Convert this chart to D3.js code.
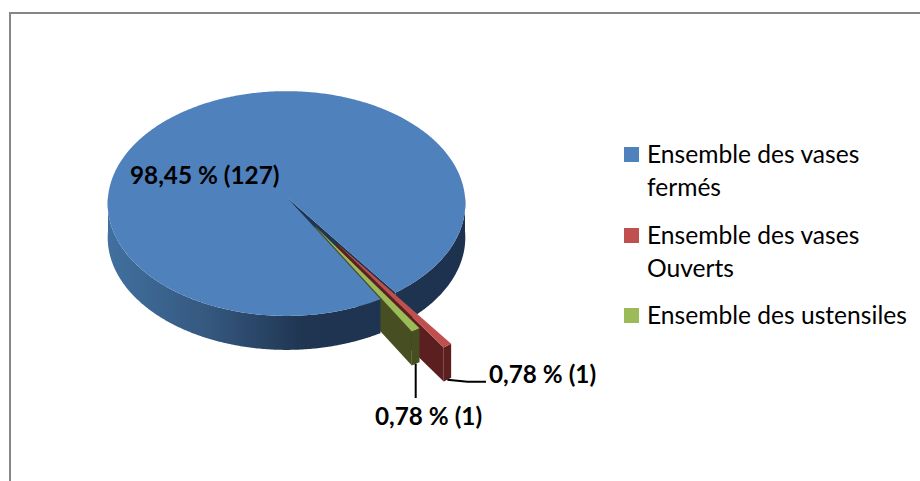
<!DOCTYPE html>
<html>
<head>
<meta charset="utf-8">
<script src="https://cdn.jsdelivr.net/npm/d3@7"></script>
<style>
    body { margin: 0; background: #fff; }
    text { font-family: Lato, "Open Sans", sans-serif; fill: #000; }
</style>
</head>
<body>
<svg id="chart" width="920" height="481"></svg>
<script>
const categories = ['Ensemble des vases fermés', 'Ensemble des vases Ouverts', 'Ensemble des ustensiles'];
const legendLines = [['Ensemble des vases', 'fermés'], ['Ensemble des vases', 'Ouverts'], ['Ensemble des ustensiles']];
const counts = [127, 1, 1];
const valueLabels = ['98,45 % (127)', '0,78 % (1)', '0,78 % (1)'];
const explosion = [0, 0.49, 0.3];

const topColors = ['#4f81bd', '#c0504d', '#9bbb59'];
const wallColors = ['#1f3551', '#5a1f1e', '#474f22'];

// tilted disc: unit circle goes through a small perspective so the near side is a bit bigger
const cx = 286.5, cy = 197, rx = 178.5, ry = 112, persp = 0.058, depth = 34;

const svg = d3.select('#chart');

svg.append('rect')
    .attr('x', 10).attr('y', 13)
    .attr('width', 960).attr('height', 600)
    .attr('fill', 'none')
    .attr('stroke', '#868686')
    .attr('stroke-width', 2);

const defs = svg.append('defs');
const grad = defs.append('linearGradient')
    .attr('id', 'wallGrad')
    .attr('gradientUnits', 'userSpaceOnUse')
    .attr('x1', 107).attr('x2', 466).attr('y1', 0).attr('y2', 0);
grad.append('stop').attr('offset', '0%').attr('stop-color', '#41709f');
grad.append('stop').attr('offset', '28%').attr('stop-color', '#35587f');
grad.append('stop').attr('offset', '55%').attr('stop-color', '#1f3551');
grad.append('stop').attr('offset', '100%').attr('stop-color', '#1d324e');

function project(ux, uy, drop) {
    const w = 1 - persp * uy;
    return [cx + rx * ux / w, cy + ry * uy / w + (drop || 0)];
}

// d3.pie angles run clockwise from north
const pie = d3.pie().sort(null).value(d => d)
    .startAngle(150 * Math.PI / 180)
    .endAngle((150 + 360) * Math.PI / 180);

const slices = pie(counts).map((s, i) => {
    const mid = (s.startAngle + s.endAngle) / 2;
    return {
        ...s,
        index: i,
        ox: explosion[i] * Math.sin(mid),
        oy: -explosion[i] * Math.cos(mid)
    };
});

function rimPoint(s, a, drop) {
    return project(s.ox + Math.sin(a), s.oy - Math.cos(a), drop);
}

function arcPoints(s, a0, a1, drop) {
    const n = Math.max(2, Math.ceil(Math.abs(a1 - a0) / 0.01));
    return d3.range(n + 1).map(i => rimPoint(s, a0 + (a1 - a0) * i / n, drop));
}

const line = d3.line();
const closed = pts => line(pts) + 'Z';

function topFace(s) {
    return closed([project(s.ox, s.oy), ...arcPoints(s, s.startAngle, s.endAngle)]);
}

function outerWall(s, a0, a1) {
    return closed([...arcPoints(s, a0, a1), ...arcPoints(s, a1, a0, depth)]);
}

function cutWall(s, a) {
    const apex = project(s.ox, s.oy);
    const apexLow = project(s.ox, s.oy, depth);
    return closed([apex, rimPoint(s, a), rimPoint(s, a, depth), apexLow]);
}

const [blue, red, green] = slices;

// blue wraps past north, so its front wall comes in two pieces either side of the gap:
// the right piece sits behind the small slices, the left piece hides the start of the olive wall
svg.append('path').attr('d', cutWall(blue, blue.endAngle)).attr('fill', wallColors[0]);
svg.append('path').attr('d', outerWall(blue, Math.PI * 2.5, blue.endAngle)).attr('fill', 'url(#wallGrad)');

svg.append('path').attr('d', cutWall(red, red.endAngle)).attr('fill', wallColors[1]);
svg.append('path').attr('d', outerWall(red, red.startAngle, red.endAngle)).attr('fill', wallColors[1]);
svg.append('path').attr('d', cutWall(green, green.endAngle)).attr('fill', wallColors[2]);
svg.append('path').attr('d', outerWall(green, green.startAngle, green.endAngle)).attr('fill', wallColors[2]);

svg.append('path').attr('d', outerWall(blue, blue.startAngle, Math.PI * 1.5)).attr('fill', 'url(#wallGrad)');

svg.selectAll('path.top')
    .data(slices)
    .join('path')
    .attr('class', 'top')
    .attr('d', topFace)
    .attr('fill', d => topColors[d.index]);

// leader lines start at the bottom of the exploded slices
const redMid = rimPoint(red, (red.startAngle + red.endAngle) / 2, depth);
const greenMid = rimPoint(green, (green.startAngle + green.endAngle) / 2, depth);

svg.append('path')
    .attr('d', line([redMid, [redMid[0] + 20, redMid[1] + 2], [486, redMid[1] + 2]]))
    .attr('fill', 'none').attr('stroke', '#000').attr('stroke-width', 2);
svg.append('path')
    .attr('d', line([greenMid, [greenMid[0], 398]]))
    .attr('fill', 'none').attr('stroke', '#000').attr('stroke-width', 2);

const labelPos = [[130, 184], [489, 383], [375, 425]];
svg.selectAll('text.value')
    .data(valueLabels)
    .join('text')
    .attr('class', 'value')
    .attr('x', (d, i) => labelPos[i][0])
    .attr('y', (d, i) => labelPos[i][1])
    .attr('font-size', 24.3)
    .attr('font-weight', 700)
    .text(d => d);

// legend
const legendY = [147, 228, 308];
const legend = svg.selectAll('g.legend')
    .data(categories)
    .join('g')
    .attr('class', 'legend')
    .attr('transform', (d, i) => `translate(624,${legendY[i]})`);

legend.append('rect')
    .attr('width', 15).attr('height', 15)
    .attr('fill', (d, i) => topColors[i]);

legend.each(function (d, i) {
    d3.select(this).selectAll('text')
        .data(legendLines[i])
        .join('text')
        .attr('x', 23)
        .attr('y', (t, j) => 16 + j * 32.5)
        .attr('font-size', 24.6)
        .text(t => t);
});
</script>
</body>
</html>
